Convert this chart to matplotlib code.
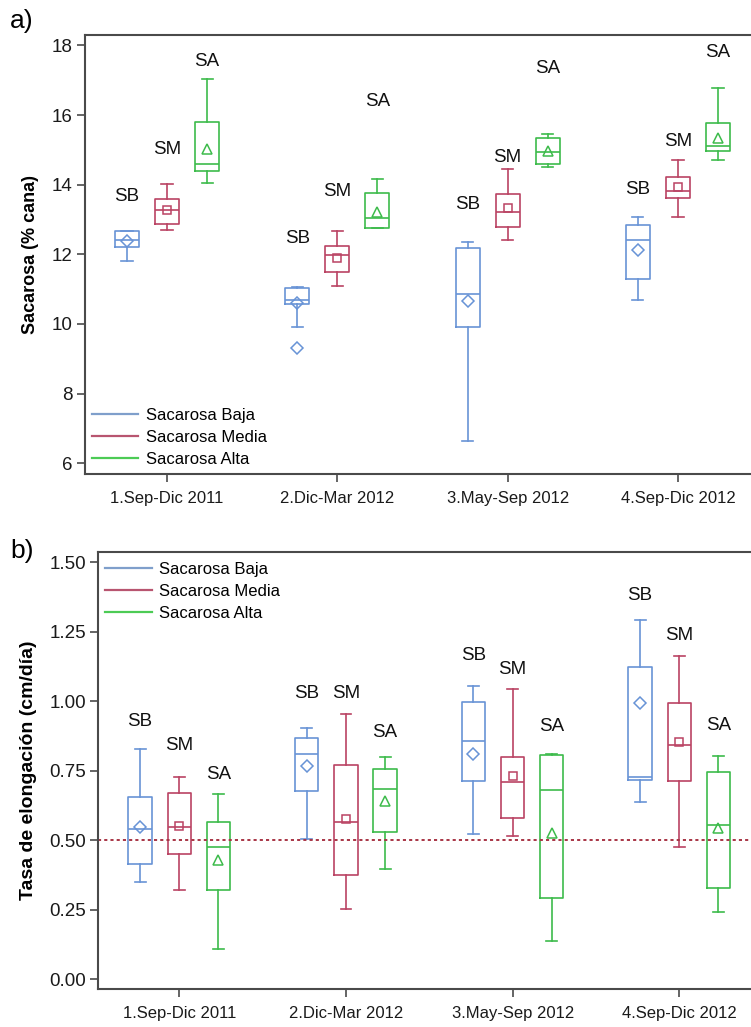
import matplotlib
matplotlib.use("Agg")
import matplotlib.pyplot as plt
from matplotlib.lines import Line2D

plt.rcParams['font.family'] = ['Liberation Sans', 'DejaVu Sans']

# ---------------- data ----------------
periods = ["1.Sep-Dic 2011", "2.Dic-Mar 2012", "3.May-Sep 2012", "4.Sep-Dic 2012"]
groups = ["Sacarosa Baja", "Sacarosa Media", "Sacarosa Alta"]
short_names = ["SB", "SM", "SA"]

# a) Sacarosa (% cana): box statistics per period
suc_SB_lo = [11.81, 9.92, 6.64, 10.69]
suc_SB_q1 = [12.20, 10.57, 9.91, 11.29]
suc_SB_med = [12.41, 10.69, 10.86, 12.41]
suc_SB_q3 = [12.67, 11.03, 12.19, 12.84]
suc_SB_hi = [12.68, 11.05, 12.35, 13.07]
suc_SB_mean = [12.39, 10.60, 10.66, 12.11]
suc_SB_out = [[], [9.32], [], []]

suc_SM_lo = [12.71, 11.09, 12.41, 13.08]
suc_SM_q1 = [12.86, 11.50, 12.78, 13.63]
suc_SM_med = [13.26, 11.98, 13.22, 13.83]
suc_SM_q3 = [13.58, 12.24, 13.73, 14.21]
suc_SM_hi = [14.02, 12.67, 14.44, 14.70]
suc_SM_mean = [13.28, 11.89, 13.32, 13.92]
suc_SM_out = [[], [], [], []]

suc_SA_lo = [14.04, 12.75, 14.51, 14.70]
suc_SA_q1 = [14.40, 12.77, 14.59, 14.97]
suc_SA_med = [14.60, 13.04, 14.95, 15.12]
suc_SA_q3 = [15.80, 13.76, 15.33, 15.78]
suc_SA_hi = [17.04, 14.17, 15.46, 16.77]
suc_SA_mean = [15.02, 13.21, 14.97, 15.35]
suc_SA_out = [[], [], [], []]

# b) Tasa de elongacion (cm/dia)
elo_SB_lo = [0.350, 0.503, 0.521, 0.638]
elo_SB_q1 = [0.415, 0.678, 0.713, 0.716]
elo_SB_med = [0.539, 0.809, 0.858, 0.728]
elo_SB_q3 = [0.654, 0.866, 0.997, 1.124]
elo_SB_hi = [0.827, 0.902, 1.056, 1.292]
elo_SB_mean = [0.548, 0.767, 0.810, 0.992]

elo_SM_lo = [0.320, 0.253, 0.515, 0.476]
elo_SM_q1 = [0.449, 0.374, 0.578, 0.713]
elo_SM_med = [0.546, 0.564, 0.708, 0.842]
elo_SM_q3 = [0.671, 0.770, 0.800, 0.995]
elo_SM_hi = [0.726, 0.954, 1.043, 1.164]
elo_SM_mean = [0.551, 0.575, 0.732, 0.854]

elo_SA_lo = [0.107, 0.395, 0.137, 0.242]
elo_SA_q1 = [0.320, 0.530, 0.293, 0.326]
elo_SA_med = [0.476, 0.684, 0.680, 0.554]
elo_SA_q3 = [0.564, 0.756, 0.807, 0.746]
elo_SA_hi = [0.667, 0.800, 0.810, 0.803]
elo_SA_mean = [0.428, 0.642, 0.527, 0.542]

elo_reference = 0.50

# heights of the SB / SM / SA tags above each box
suc_tag_y = [[13.65, 12.46, 13.42, 13.87],
             [15.00, 13.80, 14.78, 15.24],
             [17.53, 16.39, 17.33, 17.80]]
elo_tag_y = [[0.926, 1.028, 1.164, 1.382],
             [0.842, 1.028, 1.115, 1.235],
             [0.737, 0.887, 0.908, 0.911]]

# ---------------- styling ----------------
colors = ["#6893D6", "#BA4363", "#3DBB4B"]
legend_colors = ["#7F9FCB", "#B85570", "#4CCB55"]
mean_markers = ["D", "s", "^"]
mean_sizes = [6.5, 6.0, 6.5]
offsets = [-0.235, 0.0, 0.235]
box_w = 0.14
cap_w = 0.065
spine_col = "#4a4a4a"


def make_stats(lo, q1, med, q3, hi, mean, out=None):
    stats = []
    for i in range(len(lo)):
        stats.append(dict(whislo=lo[i], q1=q1[i], med=med[i], q3=q3[i],
                          whishi=hi[i], mean=mean[i],
                          fliers=(out[i] if out is not None else [])))
    return stats


suc_stats = [
    make_stats(suc_SB_lo, suc_SB_q1, suc_SB_med, suc_SB_q3, suc_SB_hi, suc_SB_mean, suc_SB_out),
    make_stats(suc_SM_lo, suc_SM_q1, suc_SM_med, suc_SM_q3, suc_SM_hi, suc_SM_mean, suc_SM_out),
    make_stats(suc_SA_lo, suc_SA_q1, suc_SA_med, suc_SA_q3, suc_SA_hi, suc_SA_mean, suc_SA_out),
]
elo_stats = [
    make_stats(elo_SB_lo, elo_SB_q1, elo_SB_med, elo_SB_q3, elo_SB_hi, elo_SB_mean),
    make_stats(elo_SM_lo, elo_SM_q1, elo_SM_med, elo_SM_q3, elo_SM_hi, elo_SM_mean),
    make_stats(elo_SA_lo, elo_SA_q1, elo_SA_med, elo_SA_q3, elo_SA_hi, elo_SA_mean),
]


def draw_boxes(ax, stats_by_group, tag_y):
    for g, stats in enumerate(stats_by_group):
        c = colors[g]
        pos = [i + offsets[g] for i in range(len(stats))]
        lp = dict(color=c, linewidth=1.2)
        ax.bxp(stats, positions=pos, widths=box_w, capwidths=cap_w,
               showmeans=True, showfliers=True, manage_ticks=False,
               boxprops=lp, whiskerprops=lp, capprops=lp, medianprops=lp,
               meanprops=dict(marker=mean_markers[g], markerfacecolor="none",
                              markeredgecolor=c, markersize=mean_sizes[g],
                              markeredgewidth=1.1),
               flierprops=dict(marker=mean_markers[g], markerfacecolor="none",
                               markeredgecolor=c, markersize=mean_sizes[g],
                               markeredgewidth=1.1))
        for i, p in enumerate(pos):
            ax.text(p, tag_y[g][i], short_names[g], ha="center", va="center",
                    fontsize=13.5, color="#111111")


def style_axes(ax, ylim, xlim, yticks, yfmt):
    ax.set_xlim(*xlim)
    ax.set_ylim(*ylim)
    ax.set_xticks(range(len(periods)))
    ax.set_xticklabels(periods)
    ax.set_yticks(yticks)
    ax.set_yticklabels([yfmt.format(v) for v in yticks])
    for s in ax.spines.values():
        s.set_color(spine_col)
        s.set_linewidth(1.5)
    ax.tick_params(axis="both", direction="out", length=6, width=1.2,
                   color=spine_col, labelcolor="#1a1a1a")
    ax.tick_params(axis="y", labelsize=13.5, pad=3)
    ax.tick_params(axis="x", labelsize=12, pad=6)


def add_legend(ax, loc, anchor):
    handles = [Line2D([], [], color=legend_colors[g], linewidth=1.6) for g in range(3)]
    ax.legend(handles, groups, loc=loc, bbox_to_anchor=anchor, frameon=False,
              fontsize=12, handlelength=2.8, handletextpad=0.45,
              labelspacing=0.4, borderpad=0, borderaxespad=0)


fig = plt.figure(figsize=(7.51, 10.27), dpi=100)

# ---- panel a ----
ax1 = fig.add_axes([85 / 751, 1 - 474 / 1027, 675 / 751, 439 / 1027])
draw_boxes(ax1, suc_stats, suc_tag_y)
style_axes(ax1, (5.69, 18.30), (-0.4815, 3.4815), [6, 8, 10, 12, 14, 16, 18], "{:.0f}")
ax1.set_ylabel("Sacarosa (% cana)", fontsize=13, fontweight="bold", labelpad=9)
add_legend(ax1, "lower left", (0.01, 0.017))

# ---- panel b ----
ax2 = fig.add_axes([98.3 / 751, 1 - 989.3 / 1027, 662 / 751, 437.6 / 1027])
draw_boxes(ax2, elo_stats, elo_tag_y)
ax2.axhline(elo_reference, color="#A83545", linewidth=1.4, linestyle=(0, (1.6, 1.6)))
style_axes(ax2, (-0.037, 1.538), (-0.486, 3.486),
           [0.00, 0.25, 0.50, 0.75, 1.00, 1.25, 1.50], "{:.2f}")
ax2.set_ylabel("Tasa de elongación (cm/día)", fontsize=14, fontweight="bold", labelpad=9)
add_legend(ax2, "upper left", (0.01, 0.976))

fig.text(10 / 751, 1 - 21 / 1027, "a)", fontsize=19, ha="left", va="center")
fig.text(10 / 751, 1 - 551 / 1027, "b)", fontsize=19, ha="left", va="center")

fig.savefig("out.png", dpi=100)
